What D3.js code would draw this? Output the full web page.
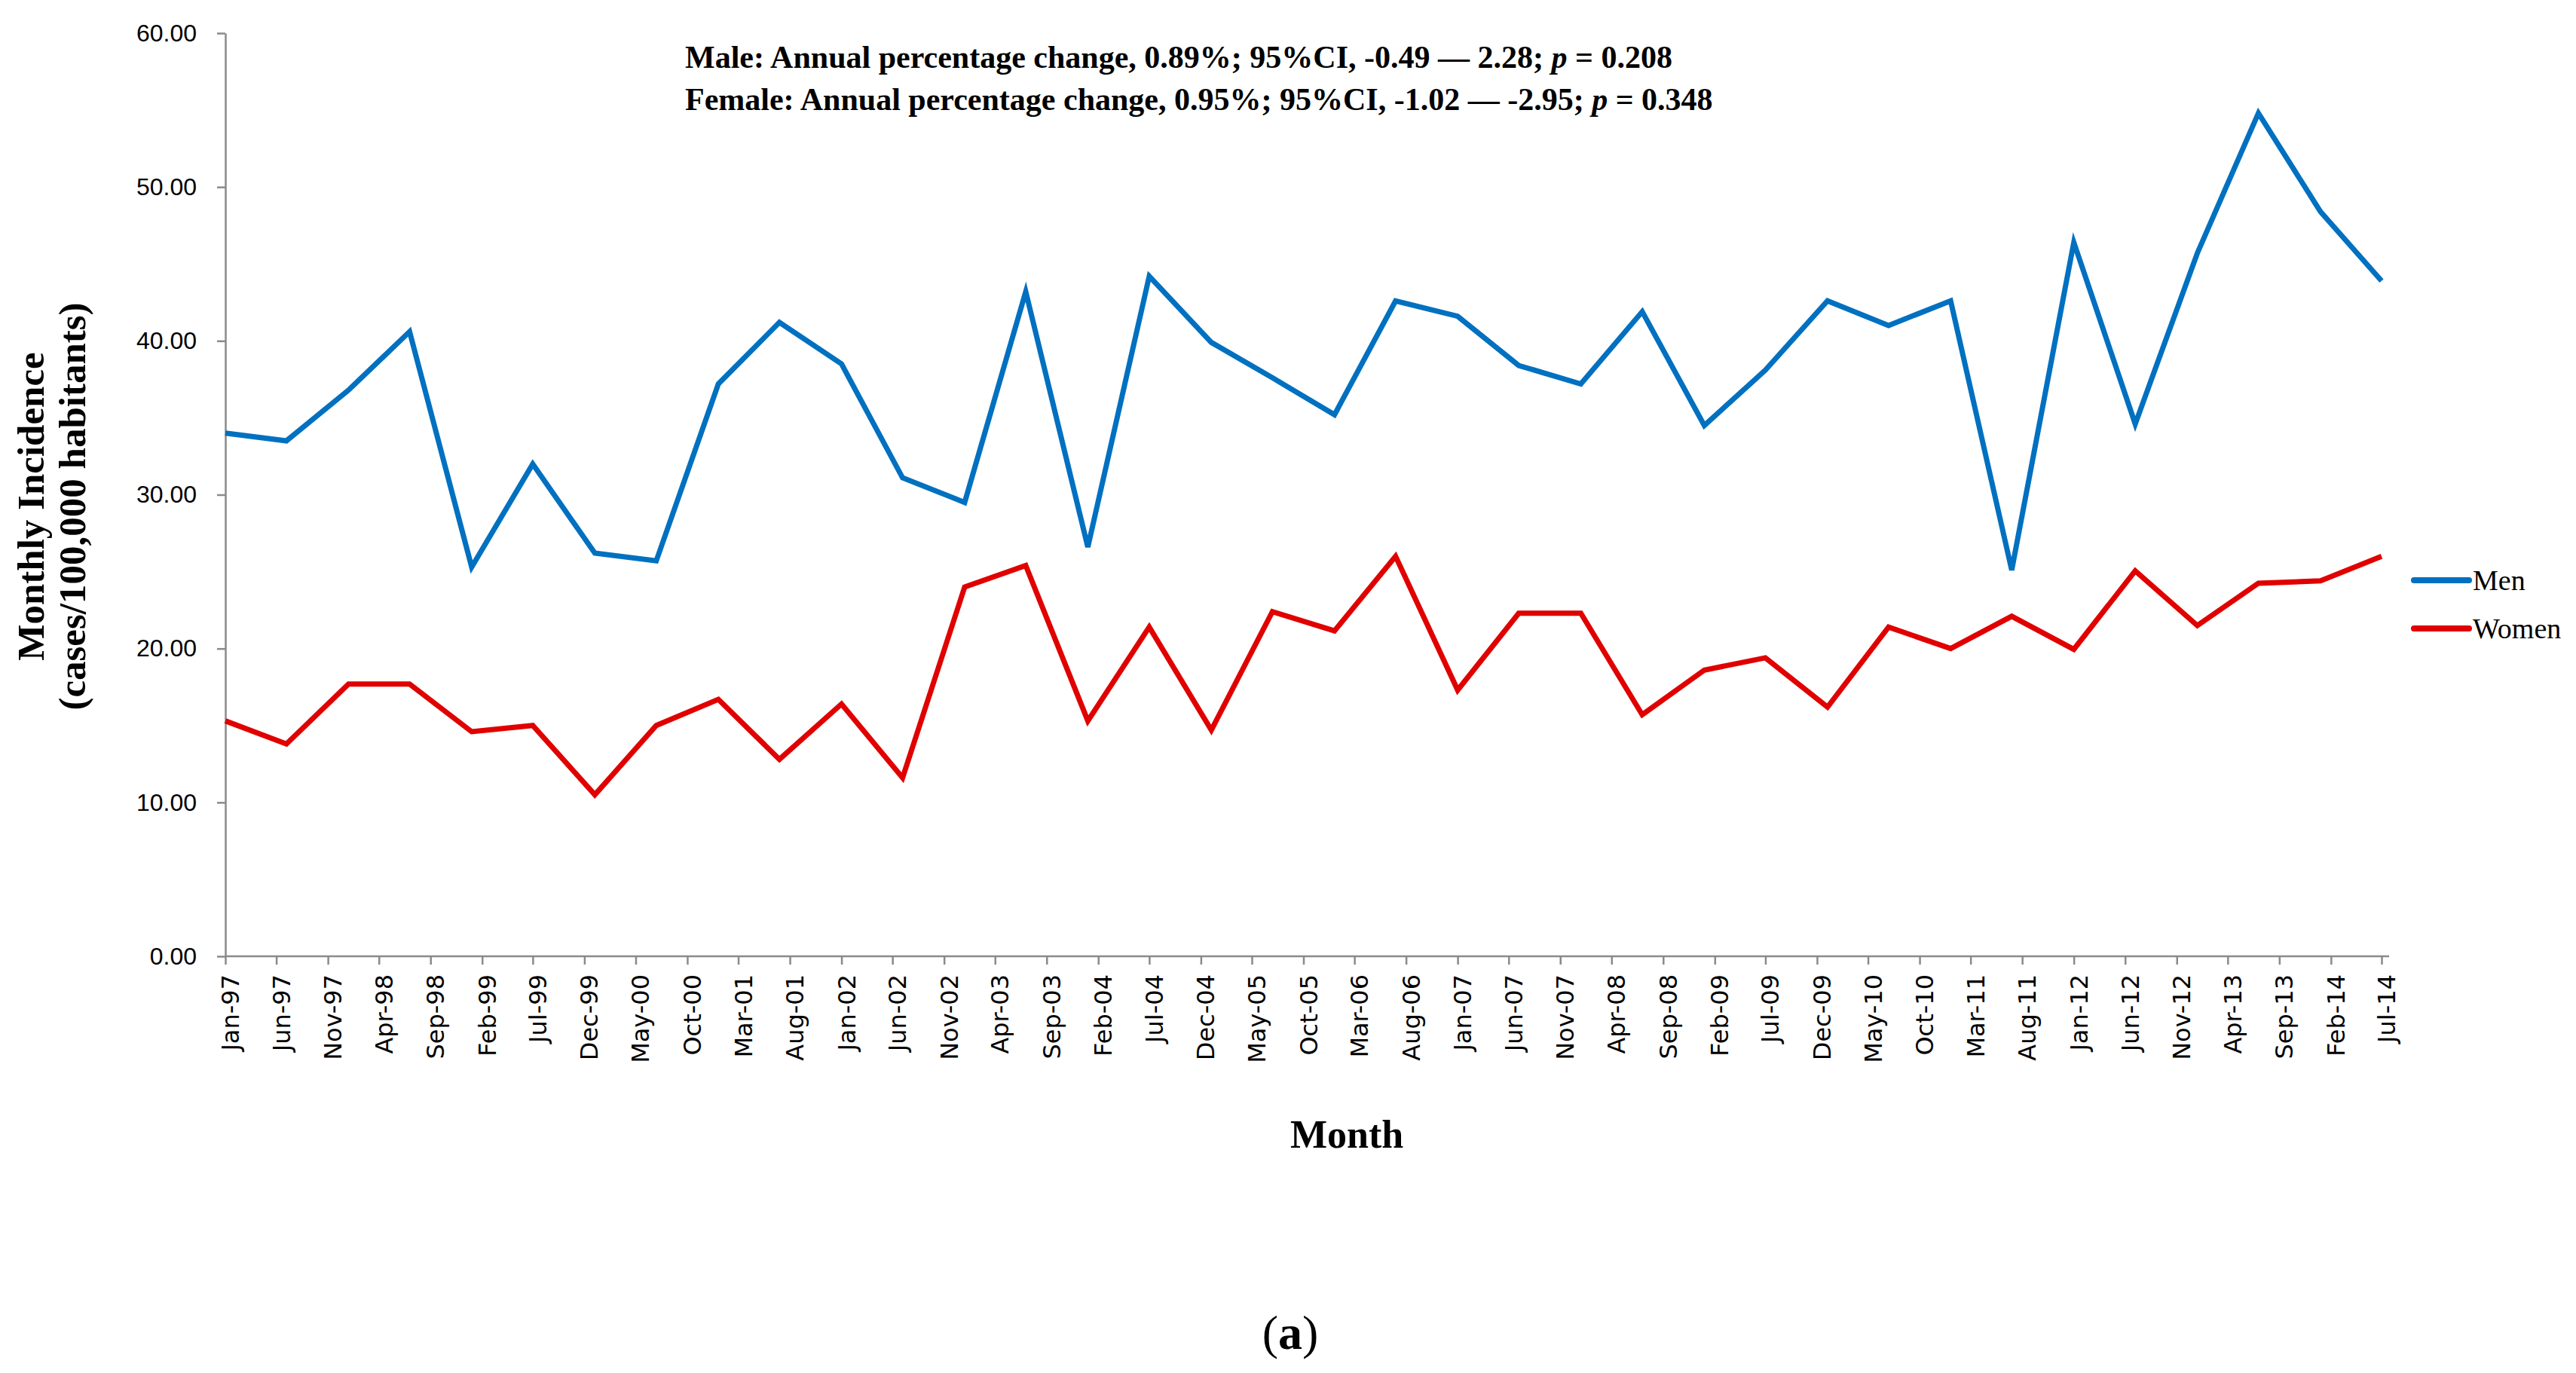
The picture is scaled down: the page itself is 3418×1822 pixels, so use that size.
<!DOCTYPE html>
<html>
<head>
<meta charset="utf-8">
<script src="https://cdn.jsdelivr.net/npm/d3@7"></script>
<style>
  html, body { margin: 0; padding: 0; background: #ffffff; }
  svg { display: block; }
</style>
</head>
<body>
<script>
// ---- data ----
const periods = [
  "Jan-97","Jul-97","Jan-98","Jul-98","Jan-99","Jul-99","Jan-00","Jul-00","Jan-01","Jul-01",
  "Jan-02","Jul-02","Jan-03","Jul-03","Jan-04","Jul-04","Jan-05","Jul-05","Jan-06","Jul-06",
  "Jan-07","Jul-07","Jan-08","Jul-08","Jan-09","Jul-09","Jan-10","Jul-10","Jan-11","Jul-11",
  "Jan-12","Jul-12","Jan-13","Jul-13","Jan-14","Jul-14"
];
const men = [
  34.0, 33.5, 36.8, 40.6, 25.3, 32.0, 26.2, 25.7, 37.2, 41.2,
  38.5, 31.1, 29.5, 43.2, 26.6, 44.2, 39.9, 37.6, 35.2, 42.6,
  41.6, 38.4, 37.2, 41.9, 34.5, 38.1, 42.6, 41.0, 42.6, 25.1,
  46.4, 34.6, 45.7, 54.8, 48.4, 43.9
];
const women = [
  15.3, 13.8, 17.7, 17.7, 14.6, 15.0, 10.5, 15.0, 16.7, 12.8,
  16.4, 11.6, 24.0, 25.4, 15.3, 21.4, 14.7, 22.4, 21.15, 26.0,
  17.3, 22.3, 22.3, 15.7, 18.6, 19.4, 16.2, 21.4, 20.0, 22.1,
  19.95, 25.05, 21.5, 24.25, 24.4, 26.0
];
const tickLabels = [
  "Jan-97","Jun-97","Nov-97","Apr-98","Sep-98","Feb-99","Jul-99","Dec-99","May-00","Oct-00",
  "Mar-01","Aug-01","Jan-02","Jun-02","Nov-02","Apr-03","Sep-03","Feb-04","Jul-04","Dec-04",
  "May-05","Oct-05","Mar-06","Aug-06","Jan-07","Jun-07","Nov-07","Apr-08","Sep-08","Feb-09",
  "Jul-09","Dec-09","May-10","Oct-10","Mar-11","Aug-11","Jan-12","Jun-12","Nov-12","Apr-13",
  "Sep-13","Feb-14","Jul-14"
];
const yTicks = [0, 10, 20, 30, 40, 50, 60];
const seriesNames = ["Men", "Women"];
const seriesColors = ["#0070C0", "#E00000"];
const annotations = [
  {label: "Male: Annual percentage change, 0.89%; 95%CI, -0.49 \u2014 2.28; ", p: "0.208"},
  {label: "Female: Annual percentage change, 0.95%; 95%CI, -1.02 \u2014 -2.95; ", p: "0.348"}
];

// ---- layout ----
const W = 3418, H = 1822;
const plot = {left: 299, right: 3160, top: 44, bottom: 1269};

const parse = d3.timeParse("%b-%y");
const x = d3.scaleTime()
  .domain([parse(periods[0]), parse(periods[periods.length - 1])])
  .range([plot.left, plot.right]);
const y = d3.scaleLinear().domain([0, 60]).range([plot.bottom, plot.top]);

const svg = d3.select("body").append("svg")
  .attr("width", W).attr("height", H)
  .attr("viewBox", `0 0 ${W} ${H}`);
svg.append("rect").attr("width", W).attr("height", H).attr("fill", "#fff");

const axisColor = "#8a8a8a";

// Y axis
const yAxis = svg.append("g")
  .attr("transform", `translate(${plot.left},0)`)
  .call(d3.axisLeft(y).tickValues(yTicks).tickFormat(d3.format(".2f")).tickSize(11).tickSizeOuter(0).tickPadding(27));
yAxis.select(".domain").attr("stroke", axisColor).attr("stroke-width", 2.5);
yAxis.selectAll(".tick line").attr("stroke", axisColor).attr("stroke-width", 2.5);
yAxis.selectAll(".tick text")
  .attr("font-family", "'Liberation Sans', Arial, sans-serif")
  .attr("font-size", 32).attr("fill", "#000");

// X axis
const tickDates = tickLabels.map(parse);
const xAxis = svg.append("g")
  .attr("transform", `translate(0,${plot.bottom})`)
  .call(d3.axisBottom(x).tickValues(tickDates).tickFormat(d3.timeFormat("%b-%y")).tickSize(11).tickSizeOuter(0));
xAxis.select(".domain").attr("stroke", axisColor).attr("stroke-width", 2.5)
  .attr("d", `M${plot.left},0H${plot.right + 10}`);
xAxis.selectAll(".tick line").attr("stroke", axisColor).attr("stroke-width", 2.5);
xAxis.selectAll(".tick text")
  .attr("font-family", "'DejaVu Sans', sans-serif")
  .attr("font-size", 32).attr("fill", "#000")
  .attr("text-anchor", "end")
  .attr("transform", "translate(6,24) rotate(-90)")
  .attr("x", 0).attr("y", 0).attr("dy", "0.36em");

// Lines
const line = d3.line()
  .x((d, i) => x(parse(periods[i])))
  .y(d => y(d));
[men, women].forEach((vals, k) => {
  svg.append("path")
    .datum(vals)
    .attr("fill", "none")
    .attr("stroke", seriesColors[k])
    .attr("stroke-width", 7)
    .attr("stroke-linejoin", "miter")
    .attr("d", line);
});

// Legend
const legendY = [770, 834];
seriesNames.forEach((name, k) => {
  svg.append("line")
    .attr("x1", 3203).attr("x2", 3276)
    .attr("y1", legendY[k]).attr("y2", legendY[k])
    .attr("stroke", seriesColors[k]).attr("stroke-width", 8)
    .attr("stroke-linecap", "round");
  svg.append("text")
    .attr("x", 3281).attr("y", legendY[k] + 13)
    .attr("font-family", "'Liberation Serif', 'Times New Roman', serif")
    .attr("font-size", 38).attr("fill", "#000")
    .text(name);
});

// Annotation text
const annY = [90, 146];
annotations.forEach((a, k) => {
  const t = svg.append("text")
    .attr("x", 909).attr("y", annY[k])
    .attr("font-family", "'Liberation Serif', 'Times New Roman', serif")
    .attr("font-weight", "bold").attr("font-size", 42).attr("fill", "#000");
  t.append("tspan").text(a.label);
  t.append("tspan").attr("font-style", "italic").text("p");
  t.append("tspan").text(" = " + a.p);
});

// Y axis title
const yTitle = svg.append("text")
  .attr("transform", "translate(0,672) rotate(-90)")
  .attr("font-family", "'Liberation Serif', 'Times New Roman', serif")
  .attr("font-weight", "bold").attr("font-size", 51).attr("fill", "#000")
  .attr("text-anchor", "middle");
yTitle.append("tspan").attr("x", 0).attr("y", 58).text("Monthly Incidence");
yTitle.append("tspan").attr("x", 0).attr("y", 113).text("(cases/100,000 habitants)");

// X axis title
svg.append("text")
  .attr("x", 1787).attr("y", 1523)
  .attr("text-anchor", "middle")
  .attr("font-family", "'Liberation Serif', 'Times New Roman', serif")
  .attr("font-weight", "bold").attr("font-size", 52).attr("fill", "#000")
  .text("Month");

// Panel label
const pl = svg.append("text")
  .attr("x", 1712).attr("y", 1790)
  .attr("text-anchor", "middle")
  .attr("font-family", "'Liberation Serif', 'Times New Roman', serif")
  .attr("font-size", 64).attr("fill", "#000");
pl.append("tspan").text("(");
pl.append("tspan").attr("font-weight", "bold").text("a");
pl.append("tspan").text(")");
</script>
</body>
</html>
